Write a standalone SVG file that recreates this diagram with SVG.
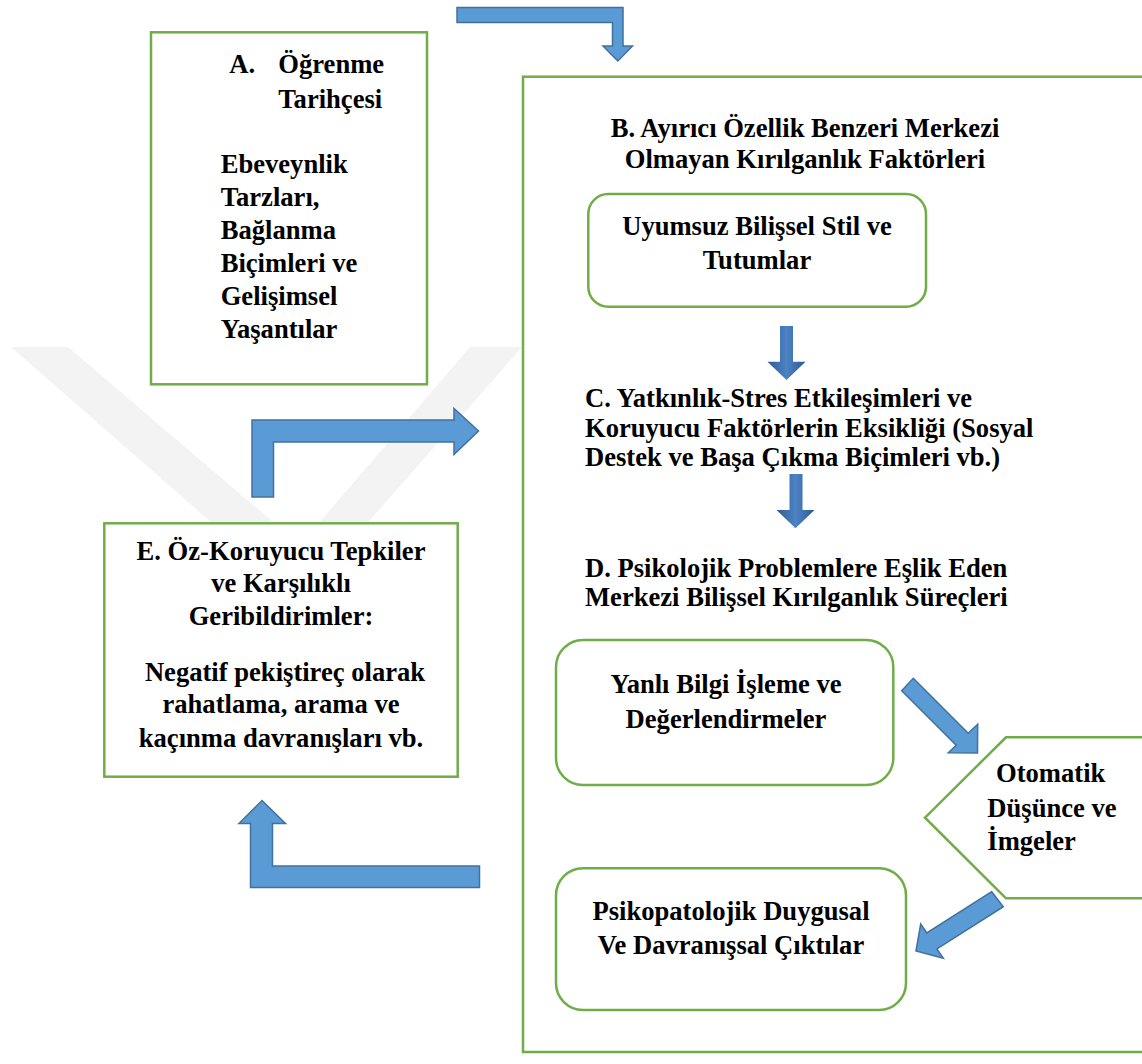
<svg xmlns="http://www.w3.org/2000/svg" width="1142" height="1064" viewBox="0 0 1142 1064">
<style>
.box{fill:#ffffff;stroke:#70ad47;stroke-width:2.5}
.arr{fill:#5b9bd5;stroke:#41719c;stroke-width:1.5;stroke-linejoin:miter}
.darr{fill:url(#dg);stroke:none}
.wm{fill:#f3f3f3}
.t{font-family:"Liberation Serif","Times New Roman",serif;font-weight:700;font-size:26.6px;fill:#000}
.c{text-anchor:middle}
</style>
<defs>
<linearGradient id="dg" x1="0" y1="0" x2="1" y2="0">
<stop offset="0" stop-color="#2d5b92"/>
<stop offset="0.5" stop-color="#4d83c4"/>
<stop offset="1" stop-color="#2d5b92"/>
</linearGradient>
</defs>
<rect width="1142" height="1064" fill="#ffffff"/>
<g id="watermark">
<polygon class="wm" points="11,347 68,347 300,545 470,347 522,347 300,600"/>
</g>
<g id="nodeB">
<rect class="box" x="523" y="76.7" width="640" height="975.3"/>
<text class="t c" x="805" y="136.7">B. Ayırıcı Özellik Benzeri Merkezi</text>
<text class="t c" x="805" y="168">Olmayan Kırılganlık Faktörleri</text>
</g>
<g id="nodeA">
<rect class="box" x="151" y="32.3" width="276" height="352"/>
<text class="t" x="229.3" y="73.3">A.</text>
<text class="t" x="278.3" y="73.3">Öğrenme</text>
<text class="t" x="278.3" y="108.3">Tarihçesi</text>
<text class="t" x="220.7" y="172.7">Ebeveynlik</text>
<text class="t" x="220.7" y="205.5">Tarzları,</text>
<text class="t" x="220.7" y="238.5">Bağlanma</text>
<text class="t" x="220.7" y="271.7">Biçimleri ve</text>
<text class="t" x="220.7" y="304.7">Gelişimsel</text>
<text class="t" x="220.7" y="338">Yaşantılar</text>
</g>
<g id="nodeUyumsuz">
<rect class="box" x="588.3" y="194" width="337.7" height="112.7" rx="20"/>
<text class="t c" x="757" y="235">Uyumsuz Bilişsel Stil ve</text>
<text class="t c" x="757" y="269">Tutumlar</text>
</g>
<g id="nodeC">
<text class="t" x="585" y="406.7">C. Yatkınlık-Stres Etkileşimleri ve</text>
<text class="t" x="585" y="436.7">Koruyucu Faktörlerin Eksikliği (Sosyal</text>
<text class="t" x="585" y="466.3">Destek ve Başa Çıkma Biçimleri vb.)</text>
</g>
<g id="nodeD">
<text class="t" x="585" y="576.7">D. Psikolojik Problemlere Eşlik Eden</text>
<text class="t" x="585" y="606.3">Merkezi Bilişsel Kırılganlık Süreçleri</text>
</g>
<g id="nodeYanli">
<rect class="box" x="556" y="640" width="337.3" height="145" rx="27"/>
<text class="t c" x="726" y="693.3">Yanlı Bilgi İşleme ve</text>
<text class="t c" x="726" y="728.3">Değerlendirmeler</text>
</g>
<g id="nodeOtomatik">
<polygon class="box" points="1150,737.3 1006,737.3 925,817.7 1006,898.3 1150,898.3"/>
<text class="t" x="996" y="781.7">Otomatik</text>
<text class="t" x="987.3" y="816.7">Düşünce ve</text>
<text class="t" x="987.3" y="850">İmgeler</text>
</g>
<g id="nodePsiko">
<rect class="box" x="556" y="868.3" width="350" height="141.7" rx="27"/>
<text class="t c" x="731" y="920">Psikopatolojik Duygusal</text>
<text class="t c" x="731" y="954">Ve Davranışsal Çıktılar</text>
</g>
<g id="nodeE">
<rect class="box" x="104.3" y="523.3" width="353.4" height="253.4"/>
<text class="t c" x="281" y="559.5">E. Öz-Koruyucu Tepkiler</text>
<text class="t c" x="281" y="592">ve Karşılıklı</text>
<text class="t c" x="281" y="625">Geribildirimler:</text>
<text class="t c" x="285" y="680.5">Negatif pekiştireç olarak</text>
<text class="t c" x="281" y="713">rahatlama, arama ve</text>
<text class="t c" x="281" y="746.5">kaçınma davranışları vb.</text>
</g>
<g id="connectors">
<polygon class="arr" points="457,7.5 623,7.5 623,46 632.5,46 617.8,61 603,46 612.5,46 612.5,22.5 457,22.5"/>
<polygon class="arr" points="252,497 252,420 454,420 454,408.5 478.5,431 454,454.5 454,442 273.5,442 273.5,497"/>
<polygon class="arr" points="262,800.5 285.5,823.5 272.5,823.5 272.5,866 479.5,866 479.5,887.5 250.5,887.5 250.5,823.5 239,823.5"/>
<polygon class="darr" points="780,326 793,326 793,361.7 805.5,361.7 786.5,380 767.5,361.7 780,361.7"/>
<polygon class="darr" points="789.5,474 802.5,474 802.5,510 814.5,510 795.5,528.3 776.5,510 789.5,510"/>
<polygon class="arr" points="901.7,690.7 956.2,745.2 948.3,752.7 977.5,753 977.7,724.3 968.2,733.2 913.3,678.3"/>
<polygon class="arr" points="991.7,891.7 926.8,932.9 920.7,924 916,951 943.3,958.3 936.9,948.9 1003.3,906.7"/>
</g>
</svg>
